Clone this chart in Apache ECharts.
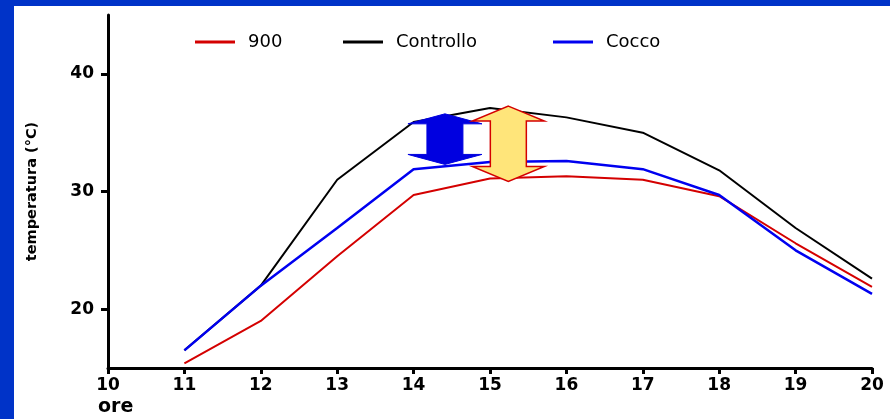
<!DOCTYPE html>
<html>
<head>
<meta charset="utf-8">
<script src="https://cdn.jsdelivr.net/npm/echarts@6/dist/echarts.min.js"></script>
<style>
  html, body { margin: 0; padding: 0; }
  #wrap { position: relative; width: 890px; height: 419px; background: #0033c8; overflow: hidden; }
  #chart { position: absolute; left: 14px; top: 6px; width: 876px; height: 413px; background: #ffffff; }
</style>
</head>
<body>
<div id="wrap"><div id="chart"></div></div>
<script>
// ---- data ----
const hours = [11, 12, 13, 14, 15, 16, 17, 18, 19, 20];
const s900 = [15.4, 19.0, 24.5, 29.7, 31.1, 31.3, 31.0, 29.6, 25.6, 21.9];
const controllo = [16.5, 22.0, 31.0, 35.9, 37.1, 36.3, 35.0, 31.8, 26.9, 22.6];
const cocco = [16.5, 22.0, 26.9, 31.9, 32.5, 32.6, 31.9, 29.7, 25.0, 21.3];
const seriesNames = ['900', 'Controllo', 'Cocco'];
const yTicks = [20, 30, 40];
const xTicks = [10, 11, 12, 13, 14, 15, 16, 17, 18, 19, 20];
// annotation arrows in data coordinates: [x centre, y top, y bottom]
const blueArrow = [14.41, 36.6, 32.3];
const yellowArrow = [15.24, 37.26, 30.85];

const colors = ['#d40000', '#000000', '#0000f0'];
const pair = (arr) => hours.map((h, i) => [h, arr[i]]);

const chart = echarts.init(document.getElementById('chart'));
const legendBase = (i, left) => ({
  left: left, top: 22,
  icon: 'rect', itemWidth: 40, itemHeight: 3,
  data: [seriesNames[i]],
  selectedMode: false,
  textStyle: { fontFamily: 'DejaVu Sans', fontSize: 18, color: '#000', padding: [0, 0, 0, 8] }
});
const option = {
  animation: false,
  color: colors,
  legend: [legendBase(0, 176), legendBase(1, 324), legendBase(2, 534)],
  grid: { left: 94, top: 9, right: 18, bottom: 51 },
  xAxis: {
    type: 'value', min: 10, max: 20, interval: 1,
    axisLine: { lineStyle: { color: '#000', width: 3 } },
    axisTick: { length: 6, lineStyle: { color: '#000', width: 3 }, customValues: xTicks },
    axisLabel: { customValues: xTicks, margin: 9, fontFamily: 'DejaVu Sans', fontWeight: 'bold', fontSize: 17, color: '#000' },
    splitLine: { show: false }
  },
  yAxis: {
    type: 'value', min: 15, max: 45,
    name: 'temperatura (°C)', nameLocation: 'middle', nameGap: 68,
    nameTextStyle: { fontFamily: 'DejaVu Sans', fontWeight: 'bold', fontSize: 14.5, color: '#000' },
    axisLine: { show: true, lineStyle: { color: '#000', width: 3 } },
    axisTick: { show: true, length: 7, lineStyle: { color: '#000', width: 3 }, customValues: yTicks },
    axisLabel: { customValues: yTicks, margin: 14, fontFamily: 'DejaVu Sans', fontWeight: 'bold', fontSize: 17, color: '#000' },
    splitLine: { show: false }
  },
  series: [
    { name: seriesNames[0], type: 'line', data: pair(s900), symbol: 'none', lineStyle: { width: 2, color: colors[0] }, z: 3 },
    { name: seriesNames[1], type: 'line', data: pair(controllo), symbol: 'none', lineStyle: { width: 2, color: colors[1] }, z: 2 },
    { name: seriesNames[2], type: 'line', data: pair(cocco), symbol: 'none', lineStyle: { width: 2.5, color: colors[2] }, z: 4 }
  ]
};
chart.setOption(option);

function arrowPoints(spec, headHalf, shaftHalf, headLen) {
  const top = chart.convertToPixel({ gridIndex: 0 }, [spec[0], spec[1]]);
  const bot = chart.convertToPixel({ gridIndex: 0 }, [spec[0], spec[2]]);
  const cx = top[0], t = top[1], b = bot[1];
  return [
    [cx, t], [cx + headHalf, t + headLen], [cx + shaftHalf, t + headLen],
    [cx + shaftHalf, b - headLen], [cx + headHalf, b - headLen], [cx, b],
    [cx - headHalf, b - headLen], [cx - shaftHalf, b - headLen],
    [cx - shaftHalf, t + headLen], [cx - headHalf, t + headLen]
  ];
}
chart.setOption({
  graphic: [
    { type: 'text', left: 84, top: 392, style: { text: 'ore', fontFamily: 'DejaVu Sans', fontWeight: 'bold', fontSize: 19, fill: '#000' } },
    { type: 'polygon', z: 10, shape: { points: arrowPoints(blueArrow, 37, 18, 10) }, style: { fill: '#0000e0', stroke: '#0000e0', lineWidth: 1 } },
    { type: 'polygon', z: 11, shape: { points: arrowPoints(yellowArrow, 36, 18, 15) }, style: { fill: '#ffe57a', stroke: '#d40000', lineWidth: 1.5 } }
  ]
});
</script>
</body>
</html>
